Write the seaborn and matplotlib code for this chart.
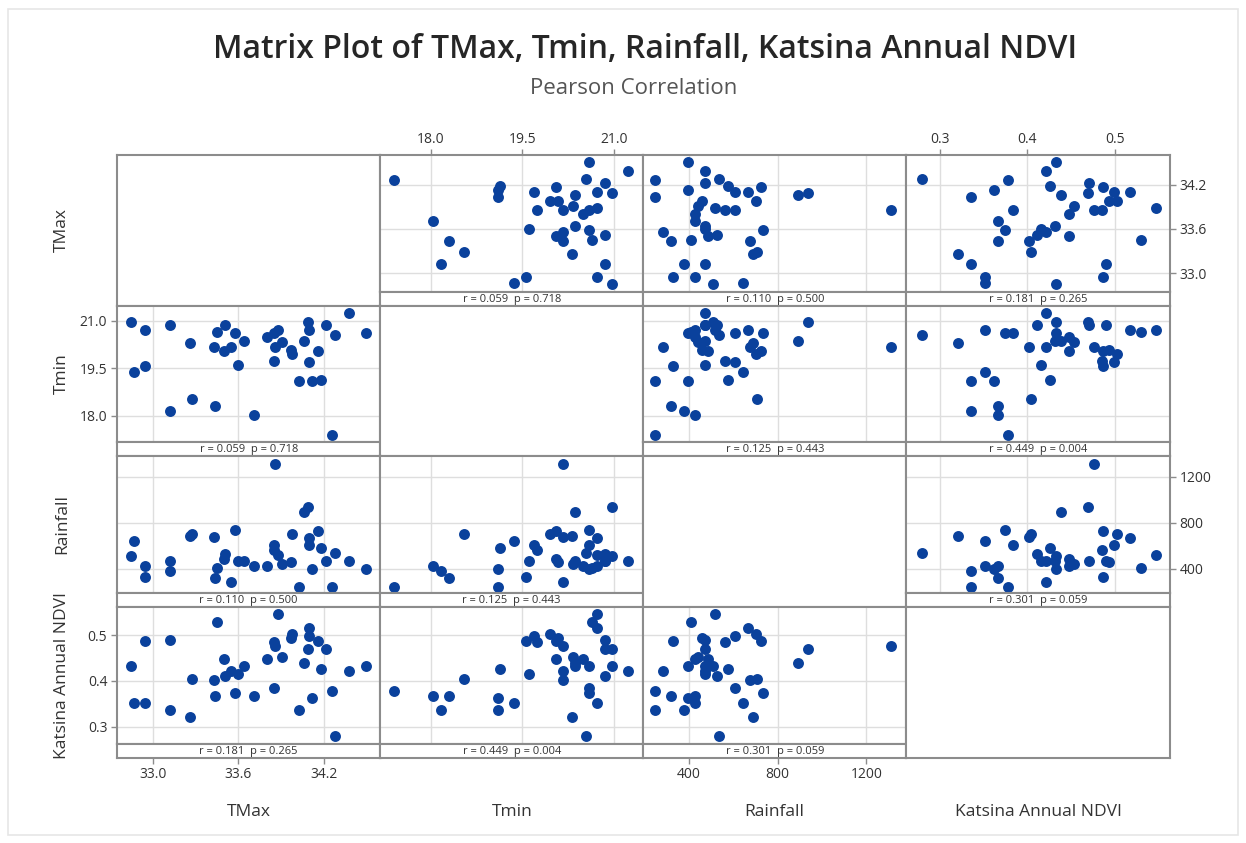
import numpy as np
import pandas as pd
import matplotlib
matplotlib.use("Agg")
import matplotlib.pyplot as plt
from matplotlib.patches import Rectangle
import seaborn as sns

# ---------------- data ----------------
tmax = [32.85, 32.87, 32.95, 32.95, 33.12, 33.12, 33.26, 33.28, 33.43, 33.44,
        33.45, 33.50, 33.51, 33.55, 33.58, 33.60, 33.64, 33.71, 33.80, 33.85,
        33.85, 33.86, 33.88, 33.91, 33.97, 33.98, 34.03, 34.06, 34.09, 34.10,
        34.10, 34.12, 34.16, 34.18, 34.22, 34.26, 34.28, 34.38, 34.50]
tmin = [20.97, 19.37, 20.72, 19.56, 20.86, 18.17, 20.31, 18.54, 20.17, 18.31,
        20.65, 20.06, 20.86, 20.17, 20.60, 19.61, 20.36, 18.04, 20.49, 20.60,
        19.74, 20.17, 20.72, 20.33, 20.09, 19.96, 19.10, 20.36, 20.97, 20.72,
        19.69, 19.10, 20.06, 19.13, 20.86, 17.40, 20.54, 21.24, 20.60]
rain = [508, 645, 427, 328, 472, 380, 688, 706, 676, 322,
        412, 487, 526, 286, 735, 472, 472, 427, 427, 607,
        562, 1310, 517, 442, 460, 703, 247, 892, 937, 667,
        607, 397, 726, 577, 472, 247, 538, 472, 397]
ndvi = [0.433, 0.352, 0.352, 0.487, 0.490, 0.336, 0.321, 0.404, 0.402, 0.367,
        0.530, 0.448, 0.411, 0.421, 0.374, 0.416, 0.432, 0.367, 0.448, 0.384,
        0.485, 0.476, 0.547, 0.453, 0.493, 0.502, 0.336, 0.439, 0.469, 0.517,
        0.499, 0.362, 0.487, 0.426, 0.470, 0.378, 0.280, 0.421, 0.433]

var_names = ["TMax", "Tmin", "Rainfall", "Katsina Annual NDVI"]

# Pearson statistics shown in the strips, for pairs (0,1),(0,2),(0,3),(1,2),(1,3),(2,3)
pairs = [(0, 1), (0, 2), (0, 3), (1, 2), (1, 3), (2, 3)]
r_text = ["0.059", "0.110", "0.181", "0.125", "0.449", "0.301"]
p_text = ["0.718", "0.500", "0.265", "0.443", "0.004", "0.059"]

tick_vals = [[33.0, 33.6, 34.2], [18.0, 19.5, 21.0], [400, 800, 1200], [0.3, 0.4, 0.5]]
tick_labels = [["33.0", "33.6", "34.2"], ["18.0", "19.5", "21.0"],
               ["400", "800", "1200"], ["0.3", "0.4", "0.5"]]

# ---------------- style ----------------
sns.set_theme(style="white")
plt.rcParams["font.family"] = ["Open Sans", "DejaVu Sans"]

W, H = 1246, 843
fig = plt.figure(figsize=(W / 100, H / 100), dpi=100)
fig.patch.set_facecolor("white")


def rect(x0, y0, x1, y1):
    return [x0 / W, 1 - y1 / H, (x1 - x0) / W, (y1 - y0) / H]


col_edges = [117, 380.5, 643, 906.5, 1170]
row_edges = [155, 305.5, 456, 606.5, 758]
strip_h = 14

lims = [(32.75, 34.60), (17.18, 21.48), (195, 1380), (0.262, 0.563)]

border = "#8c8c8c"
gridc = "#dedede"
pt_color = "#0a419c"
txt = "#333333"
tick_fs = 10

df = pd.DataFrame({var_names[0]: tmax, var_names[1]: tmin,
                   var_names[2]: rain, var_names[3]: ndvi})

stat = {}
for (a, b), r, p in zip(pairs, r_text, p_text):
    stat[(a, b)] = (r, p)
    stat[(b, a)] = (r, p)


def style_spines(ax):
    for s in ax.spines.values():
        s.set_visible(True)
        s.set_color(border)
        s.set_linewidth(1.5)


for i in range(4):
    for j in range(4):
        x0, x1 = col_edges[j], col_edges[j + 1]
        y0, y1 = row_edges[i], row_edges[i + 1]
        if i == j:
            ax = fig.add_axes(rect(x0, y0, x1, y1))
            ax.set_xticks([])
            ax.set_yticks([])
            style_spines(ax)
            continue
        ax = fig.add_axes(rect(x0, y0, x1, y1 - strip_h))
        sns.scatterplot(data=df, x=var_names[j], y=var_names[i], ax=ax,
                        color=pt_color, s=62, linewidth=0, legend=False, zorder=3)
        ax.set_xlim(lims[j])
        ax.set_ylim(lims[i])
        ax.set_xticks(tick_vals[j])
        ax.set_yticks(tick_vals[i])
        ax.set_xticklabels(tick_labels[j])
        ax.set_yticklabels(tick_labels[i])
        ax.grid(True, color=gridc, lw=1.0)
        ax.set_axisbelow(True)
        ax.set_xlabel("")
        ax.set_ylabel("")
        ax.tick_params(axis="both", which="both", length=0,
                       labelbottom=False, labelleft=False, labeltop=False, labelright=False,
                       bottom=False, left=False, top=False, right=False)
        style_spines(ax)
        if i == 0 and j in (1, 3):
            ax.tick_params(axis="x", top=True, labeltop=True, length=4, width=1,
                           color=border, direction="out", labelsize=tick_fs,
                           labelcolor=txt, pad=1.5)
        if j == 3 and i in (0, 2):
            ax.tick_params(axis="y", right=True, labelright=True, length=4, width=1,
                           color=border, direction="out", labelsize=tick_fs,
                           labelcolor=txt, pad=3)
        if j == 0 and i in (1, 3):
            ax.tick_params(axis="y", left=True, labelleft=True, length=4, width=1,
                           color=border, direction="out", labelsize=tick_fs,
                           labelcolor=txt, pad=3)

        sax = fig.add_axes(rect(x0, y1 - strip_h, x1, y1))
        sax.set_xlim(lims[j])
        sax.set_ylim(0, 1)
        sax.set_yticks([])
        sax.set_xticks([])
        sax.grid(False)
        style_spines(sax)
        if i == 3 and j in (0, 2):
            sax.set_xticks(tick_vals[j])
            sax.set_xticklabels(tick_labels[j])
            sax.tick_params(axis="x", bottom=True, labelbottom=True, length=4, width=1,
                            color=border, direction="out", labelsize=tick_fs,
                            labelcolor=txt, pad=2.5)
        r, p = stat[(i, j)]
        sax.text(0.5, 0.45, f"r = {r}  p = {p}", transform=sax.transAxes,
                 ha="center", va="center", fontsize=8, color=txt)

# variable labels
for k, name in enumerate(var_names):
    y0, y1 = row_edges[k], row_edges[k + 1]
    yc = (y0 + y1) / 2 if k == 0 else (y0 + y1 - strip_h) / 2
    fig.text(62 / W, 1 - yc / H, name, rotation=90, ha="center", va="center",
             fontsize=12.5, color=txt)
    xc = (col_edges[k] + col_edges[k + 1]) / 2
    fig.text(xc / W, 1 - 812 / H, name, ha="center", va="center",
             fontsize=12.5, color=txt)

fig.text(645 / W, 1 - 50 / H, "Matrix Plot of TMax, Tmin, Rainfall, Katsina Annual NDVI",
         ha="center", va="center", fontsize=23, fontweight="semibold", color="#262626")
fig.text(634 / W, 1 - 88 / H, "Pearson Correlation", ha="center", va="center",
         fontsize=16, color="#555555")

fig.patches.append(Rectangle((8 / W, 8 / H), 1230 / W, 826 / H, transform=fig.transFigure,
                             fill=False, ec="#e6e6e6", lw=1.2))

fig.savefig("out.png", dpi=100)
